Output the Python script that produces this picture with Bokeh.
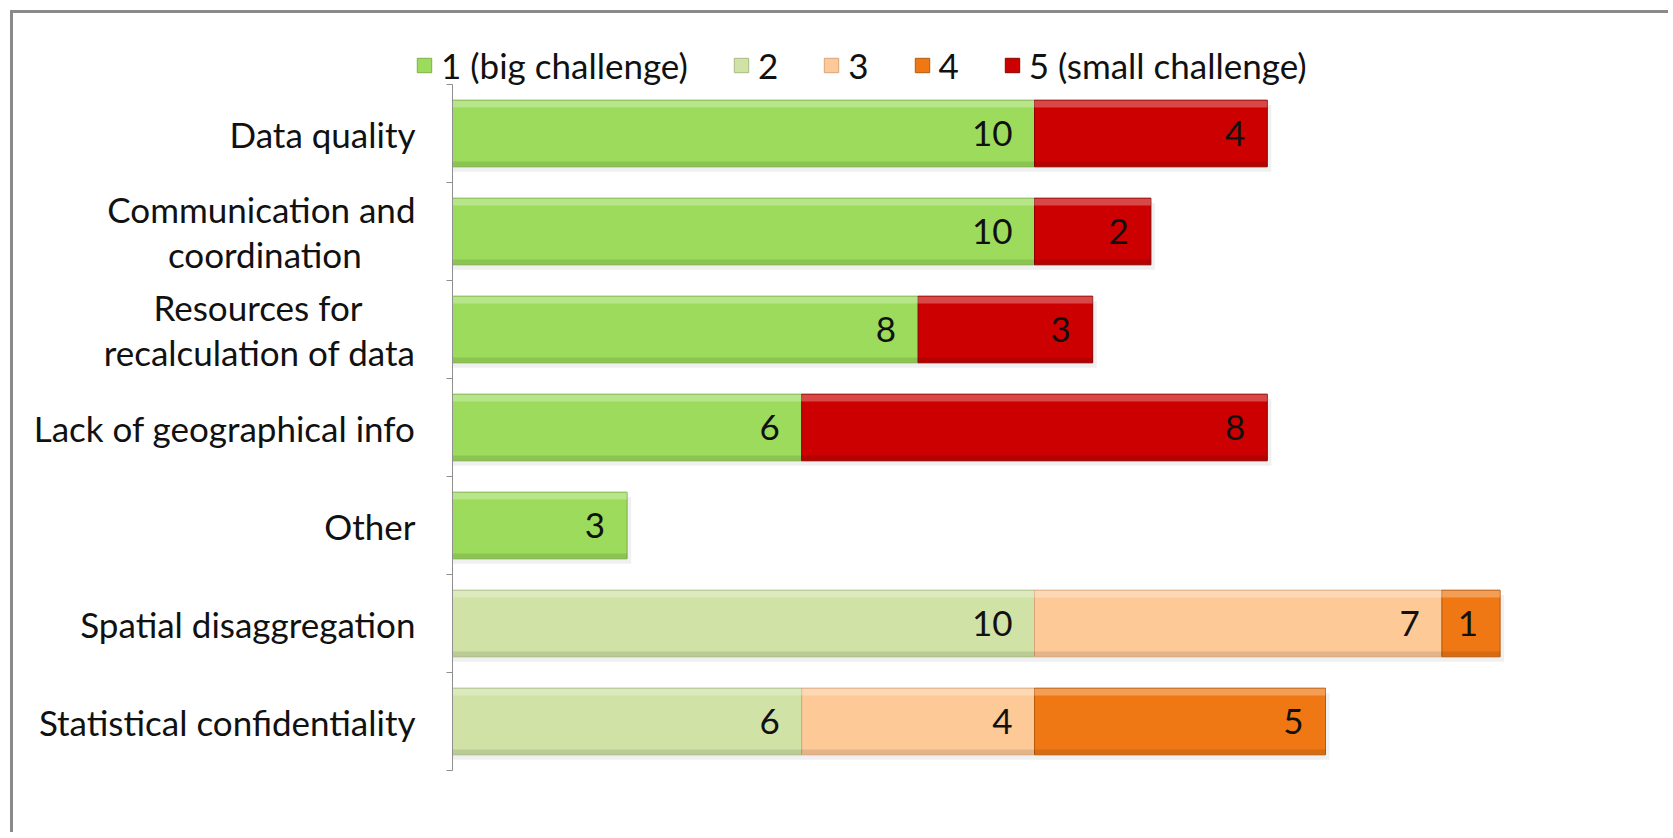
import numpy as np
from bokeh.plotting import figure
from bokeh.models import ColumnDataSource, FixedTicker, Range1d
from bokeh.core.properties import value
from bokeh.embed import file_html
from bokeh.resources import INLINE

# ---------------- data ----------------
categories = [
    "Data quality",
    "Communication and\ncoordination",
    "Resources for\nrecalculation of data",
    "Lack of geographical info",
    "Other",
    "Spatial disaggregation",
    "Statistical confidentiality",
]
series_names = ["1 (big challenge)", "2", "3", "4", "5 (small challenge)"]
s1 = [10, 10, 8, 6, 3, 0, 0]
s2 = [0, 0, 0, 0, 0, 10, 6]
s3 = [0, 0, 0, 0, 0, 7, 4]
s4 = [0, 0, 0, 0, 0, 1, 5]
s5 = [4, 2, 3, 8, 0, 0, 0]

# ---------------- style ----------------
colors = ["#9CDB5C", "#D0E2A6", "#FDC997", "#F07814", "#CC0000"]
edges = ["#7DB146", "#A8BB85", "#D8A579", "#B65A0C", "#8C0000"]
FONT = "Lato"
FS = "35px"
BAR_H = 0.68
NB = "\u00a0"

# centre the shorter line of wrapped labels (axis labels are right-aligned)
pad_second = {1: 6}
pad_first = {2: 6}
axis_labels = []
for i, c in enumerate(categories):
    if "\n" in c:
        a, b = c.split("\n")
        axis_labels.append(a + NB * pad_first.get(i, 0) + "\n" + b + NB * pad_second.get(i, 0))
    else:
        axis_labels.append(c)

n = len(categories)
ys = [n - i - 0.5 for i in range(n)]
series = [s1, s2, s3, s4, s5]

stack = np.array(series, dtype=float)
cum = np.cumsum(stack, axis=0)
lefts = cum - stack
totals = cum[-1]

# canvas geometry (pixels): plot frame covers the whole canvas, value axis sits at x=0
W, H = 1658, 822
PX_X = 58.2       # pixels per value unit
PX_Y = 98.0       # pixels per category band
AX_LEFT = 439     # px from canvas left to the category axis
AX_TOP = 71       # px from canvas top to the first band

p = figure(
    width=W, height=H,
    x_range=Range1d(-AX_LEFT / PX_X, (W - AX_LEFT) / PX_X),
    y_range=Range1d(n - (H - AX_TOP) / PX_Y, n + AX_TOP / PX_Y),
    output_backend="svg", toolbar_location=None,
    min_border_left=0, min_border_right=0,
    min_border_top=0, min_border_bottom=0,
    outline_line_color=None,
    background_fill_color="white", border_fill_color="white",
    styles={"margin-left": "10px", "margin-top": "10px",
            "border-left": "3px solid #8a8a8a", "border-top": "3px solid #8a8a8a"},
)

# soft shadow under each bar
shadow = ColumnDataSource(dict(y=[v - 0.05 for v in ys], right=list(totals + 0.07)))
p.hbar(y="y", left=0, right="right", height=BAR_H, source=shadow,
       fill_color="black", fill_alpha=0.06, line_color=None)

all_seg = dict(y=[], left=[], right=[], txt=[])
for k in range(len(series)):
    seg = dict(y=[], left=[], right=[])
    for i in range(n):
        if stack[k, i] > 0:
            seg["y"].append(ys[i])
            seg["left"].append(lefts[k, i])
            seg["right"].append(cum[k, i])
            all_seg["y"].append(ys[i])
            all_seg["left"].append(lefts[k, i])
            all_seg["right"].append(cum[k, i])
            all_seg["txt"].append(str(int(stack[k, i])))
    p.hbar(y="y", left="left", right="right", height=BAR_H,
           source=ColumnDataSource(seg), fill_color=colors[k],
           line_color=edges[k], line_width=1, legend_label=series_names[k])

seg_src = ColumnDataSource(all_seg)
# bevel highlights
p.hbar(y=[v + BAR_H / 2 - 0.04 for v in all_seg["y"]], left=all_seg["left"],
       right=all_seg["right"], height=0.07, fill_color="white", fill_alpha=0.28,
       line_color=None)
p.hbar(y=[v - BAR_H / 2 + 0.03 for v in all_seg["y"]], left=all_seg["left"],
       right=all_seg["right"], height=0.05, fill_color="black", fill_alpha=0.10,
       line_color=None)

# data labels
p.text(x="right", y="y", text="txt", source=seg_src, x_offset=-22,
       text_align="right", text_baseline="middle",
       text_font=value(FONT), text_font_size=FS, text_color="#111111")

# axes
p.xaxis.visible = False
p.xgrid.grid_line_color = None
p.ygrid.grid_line_color = None
yax = p.yaxis[0]
yax.fixed_location = 0
yax.bounds = (0, n)
yax.ticker = FixedTicker(ticks=ys, minor_ticks=list(range(n + 1)))
yax.major_label_overrides = {float(y): c for y, c in zip(ys, axis_labels)}
yax.major_tick_line_color = None
yax.major_tick_out = 0
yax.major_tick_in = 0
yax.minor_tick_line_color = "#8f8f8f"
yax.minor_tick_out = 6
yax.minor_tick_in = 0
yax.axis_line_color = "#8f8f8f"
yax.major_label_standoff = 31
yax.major_label_text_font = FONT
yax.major_label_text_font_size = FS
yax.major_label_text_line_height = 1.07
yax.major_label_text_color = "#111111"

# legend across the top
lg = p.legend[0]
lg.orientation = "horizontal"
lg.location = (402, 749)
lg.glyph_width = 18
lg.glyph_height = 18
lg.label_standoff = 8
lg.spacing = 44
lg.padding = 0
lg.margin = 0
lg.border_line_color = None
lg.background_fill_alpha = 0
lg.label_text_font = FONT
lg.label_text_font_size = FS
lg.label_text_color = "#111111"

open("out.html", "w").write(file_html(p, INLINE))
